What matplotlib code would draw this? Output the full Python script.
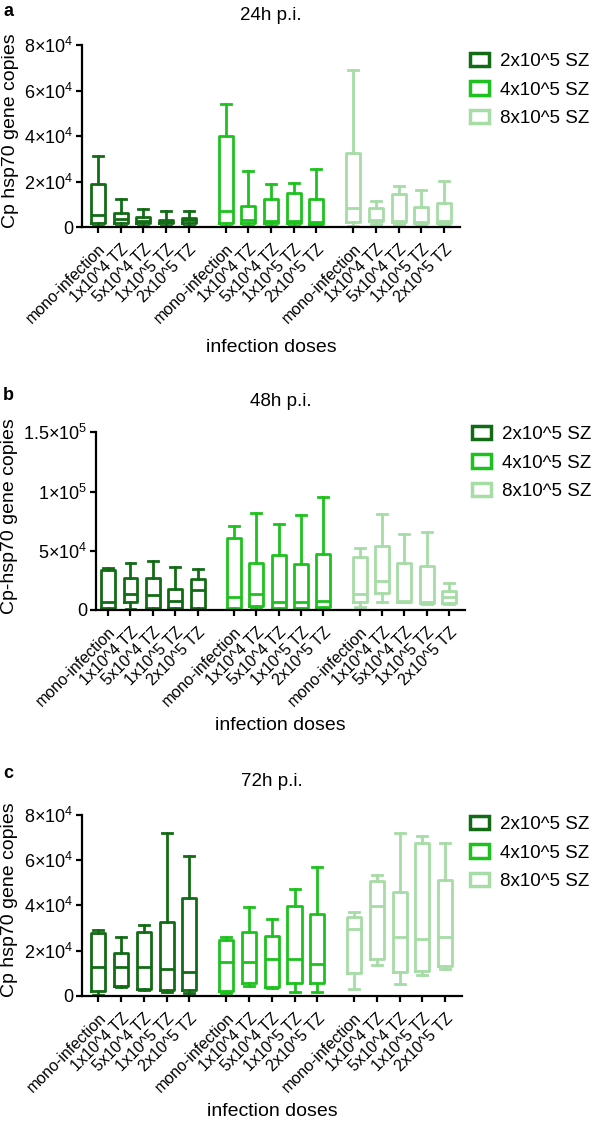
import matplotlib
matplotlib.use('Agg')
import matplotlib.pyplot as plt
from matplotlib.patches import Patch

plt.rcParams['font.family'] = ['Liberation Sans', 'DejaVu Sans']
plt.rcParams['mathtext.fontset'] = 'custom'
plt.rcParams['mathtext.rm'] = 'Liberation Sans'
plt.rcParams['mathtext.it'] = 'Liberation Sans:italic'
plt.rcParams['mathtext.bf'] = 'Liberation Sans:bold'

# ---------------- data ----------------
doses = ['mono-infection', '1x10^4 TZ', '5x10^4 TZ', '1x10^5 TZ', '2x10^5 TZ']
series = ['2x10^5 SZ', '4x10^5 SZ', '8x10^5 SZ']
colors = ['#136b16', '#1ec21e', '#a6dca6']

# 24h p.i.  (15 boxes: 3 series x 5 doses)
a_whishi = [31000, 12300, 7900, 7000, 7100, 54000, 24600, 18900, 19500, 25400, 69000, 11600, 18000, 16300, 20200]
a_q3 = [18900, 6100, 4400, 3000, 4100, 40000, 9200, 12200, 15100, 12200, 32700, 8200, 14500, 8900, 10400]
a_med = [5300, 3400, 2800, 2600, 2900, 7000, 3000, 2700, 2600, 2200, 8200, 3000, 2600, 2300, 2500]
a_q1 = [1700, 1700, 1700, 1700, 1700, 1900, 1700, 1700, 1700, 1300, 2300, 2600, 2300, 1900, 1900]
a_whislo = [300, 300, 300, 300, 300, 300, 300, 300, 300, 300, 600, 1300, 1500, 1000, 1000]

# 48h p.i.
b_whishi = [35700, 40000, 41300, 36000, 34300, 70900, 81600, 72600, 80200, 95600, 52000, 80700, 64100, 65500, 22500]
b_q3 = [33800, 27300, 26700, 17500, 25900, 61000, 40000, 46400, 38500, 47300, 45000, 54000, 40000, 37100, 16300]
b_med = [7000, 13200, 12700, 7900, 16900, 10700, 13200, 7000, 7000, 7900, 13500, 24500, 7500, 7000, 11300]
b_q1 = [1400, 6500, 1400, 2000, 1400, 2000, 3400, 2000, 2000, 2800, 7000, 14600, 7000, 5600, 6200]
b_whislo = [300, 900, 300, 700, 500, 500, 2800, 1000, 1000, 2000, 2800, 7000, 7000, 5000, 5000]

# 72h p.i.
c_whishi = [29100, 26100, 31300, 71900, 61800, 26100, 39400, 33800, 47100, 57100, 36900, 53400, 71900, 70700, 67500]
c_q3 = [27900, 19000, 28300, 32500, 43100, 24700, 28300, 26600, 39700, 36200, 35000, 50900, 46000, 67700, 51200]
c_med = [12600, 12600, 12600, 11700, 10600, 15100, 15100, 16200, 16200, 14000, 29400, 39700, 26100, 25000, 26100]
c_q1 = [2200, 4400, 2800, 2500, 2500, 2200, 5500, 4000, 5800, 5500, 10200, 16100, 10600, 10900, 13100]
c_whislo = [500, 4000, 2500, 1500, 1200, 1300, 4400, 3500, 1800, 1800, 2800, 13600, 5000, 9200, 11700]

yt_a = [0, 20000, 40000, 60000, 80000]
ytl_a = ['0', '2×10$^4$', '4×10$^4$', '6×10$^4$', '8×10$^4$']
yt_b = [0, 50000, 100000, 150000]
ytl_b = ['0', '5×10$^4$', '1×10$^5$', '1.5×10$^5$']

# ---------------- layout ----------------
W, H = 597, 1127
fig = plt.figure(figsize=(W / 100, H / 100), dpi=100)

GROUP_STEP = 5.62
LW = 2.0

panels = [
    dict(letter='a', title='24h p.i.', ylabel='Cp hsp70 gene copies',
         rect=(82, 45, 460, 227), xlim=(-0.70, 15.94), ymax=80000,
         yt=yt_a, ytl=ytl_a,
         data=(a_whislo, a_q1, a_med, a_q3, a_whishi),
         letter_y=11, title_y=15, xlabel_y=348, leg=(470, 90)),
    dict(letter='b', title='48h p.i.', ylabel='Cp-hsp70 gene copies',
         rect=(96, 432.3, 465, 610), xlim=(-0.54, 15.95), ymax=150000,
         yt=yt_b, ytl=ytl_b,
         data=(b_whislo, b_q1, b_med, b_q3, b_whishi),
         letter_y=395, title_y=402, xlabel_y=726, leg=(472, 463)),
    dict(letter='c', title='72h p.i.', ylabel='Cp hsp70 gene copies',
         rect=(82, 815, 462, 995.7), xlim=(-0.72, 15.98), ymax=80000,
         yt=yt_a, ytl=ytl_a,
         data=(c_whislo, c_q1, c_med, c_q3, c_whishi),
         letter_y=774, title_y=782, xlabel_y=1112, leg=(470, 853)),
]

for p in panels:
    l, t, r, b = p['rect']
    ax = fig.add_axes([l / W, 1 - b / H, (r - l) / W, (b - t) / H])
    wl, q1, med, q3, wh = p['data']
    for g in range(3):
        stats = []
        pos = []
        for i in range(5):
            k = g * 5 + i
            stats.append(dict(whislo=wl[k], q1=q1[k], med=med[k], q3=q3[k], whishi=wh[k], fliers=[]))
            pos.append(g * GROUP_STEP + i)
        c = colors[g]
        ax.bxp(stats, positions=pos, widths=0.62, capwidths=0.44, showfliers=False,
               boxprops=dict(color=c, linewidth=LW),
               whiskerprops=dict(color=c, linewidth=LW),
               capprops=dict(color=c, linewidth=LW),
               medianprops=dict(color=c, linewidth=LW),
               manage_ticks=False)
    xt = [g * GROUP_STEP + i for g in range(3) for i in range(5)]
    ax.set_xlim(*p['xlim'])
    ax.set_ylim(0, p['ymax'])
    ax.set_xticks(xt)
    ax.set_xticklabels(doses * 3, rotation=45, ha='right', va='top',
                       rotation_mode='anchor', fontsize=11.5)
    ax.set_yticks(p['yt'])
    ax.set_yticklabels(p['ytl'], fontsize=13)
    for s in ['top', 'right']:
        ax.spines[s].set_visible(False)
    for s in ['left', 'bottom']:
        ax.spines[s].set_linewidth(1.6)
    ax.tick_params(axis='both', width=1.6, length=4.5, color='black')
    ax.tick_params(axis='x', pad=6)
    ax.tick_params(axis='y', pad=2)

    hpx = b - t
    wpx = r - l
    ax.set_title(p['title'], fontsize=13.5, y=(b - p['title_y']) / hpx, va='center', pad=0)
    ax.set_xlabel('infection doses', fontsize=14)
    ax.xaxis.set_label_coords(0.5, (b - p['xlabel_y']) / hpx)
    ax.xaxis.label.set_va('center')
    ax.set_ylabel(p['ylabel'], fontsize=14)
    ax.yaxis.set_label_coords((10 - l) / wpx, 0.53)
    ax.yaxis.label.set_va('center')

    fig.text(3 / W, 1 - p['letter_y'] / H, p['letter'], fontsize=13,
             fontweight='bold', va='center', ha='left')

    handles = [Patch(facecolor='white', edgecolor=colors[g], linewidth=2.5, label=series[g])
               for g in range(3)]
    lx, ly = p['leg']
    fig.legend(handles=handles, loc='center left',
               bbox_to_anchor=(lx / W, 1 - ly / H), bbox_transform=fig.transFigure,
               frameon=False, fontsize=13.5, handlelength=1.0, handleheight=0.7,
               handletextpad=0.6, labelspacing=0.62, borderpad=0, borderaxespad=0)

fig.savefig('out.png', dpi=100, facecolor='white')
